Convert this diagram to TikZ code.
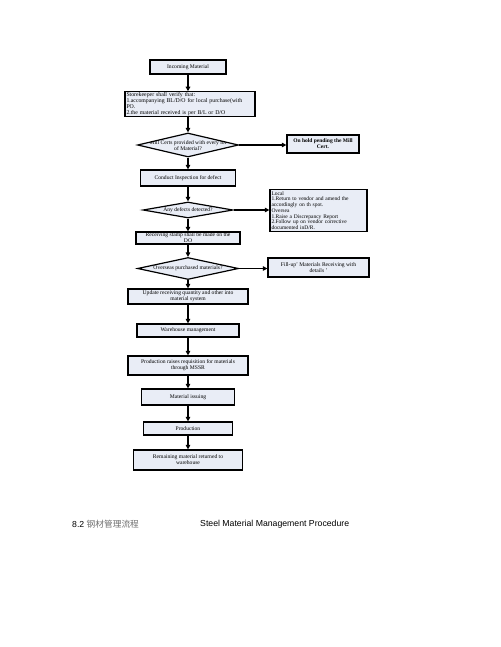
\documentclass[tikz,border=0pt]{standalone}
\usepackage{fontspec}
\setmainfont{Liberation Serif}
\newfontfamily\capfont{Liberation Sans}
\newfontfamily\cjk{Noto Sans CJK SC}
\usetikzlibrary{shapes.geometric,arrows.meta}
\definecolor{boxfill}{RGB}{233,237,246}
\definecolor{cjkgray}{RGB}{110,110,110}
\begin{document}
\begin{tikzpicture}[x=1pt,y=-1pt,
  box/.style={draw=black, line width=1.2pt, fill=boxfill, inner sep=0.5pt,
    font=\fontsize{5.6}{6}\selectfont, align=center},
  sz/.style 2 args={minimum width=#1pt, minimum height=#2pt},
  dia/.style={draw=black, line width=1.2pt, fill=boxfill, diamond, inner sep=0pt},
  dtxt/.style={font=\fontsize{5.6}{6}\selectfont, align=center, inner sep=0pt},
  arr/.style={line width=1.2pt, -{Triangle[length=4.5pt,width=4.5pt]}},
  captxt/.style={font=\capfont\fontsize{8.7}{10}\selectfont, anchor=west, inner sep=0pt}]
\useasboundingbox (0,0) rectangle (500,647);
\fill[white] (0,0) rectangle (500,647);

\node[box, sz={76}{14}] (n1) at (188,67) {Incoming Material};
\node[box, sz={130}{24}, text width=127pt, align=left, font=\fontsize{5.8}{6}\selectfont] (n2) at (190,104)
  {Storekeeper shall verify that:\\1.accompanying BL/D/O for local  purchase(with\\PO.\\2.the material received is per B/L or D/O};
\node[dia, minimum width=101pt, minimum height=24pt,
  path picture={\node[dtxt] at ([yshift=-1pt]path picture bounding box.center)
    {Mill Certs provided with every lot\\of  Material?};}] (d1) at (188,145) {};
\node[box, sz={72}{18}, font=\bfseries\fontsize{5.5}{6}\selectfont] (hold) at (323,144) {On hold pending the Mill\\Cert.};
\node[box, sz={95}{16}] (n3) at (188,178) {Conduct  Inspection for  defect};
\node[dia, minimum width=90pt, minimum height=16pt] (d2) at (188,210) {};
\node[dtxt] (d2t) at (d2) {Any defects detected?};
\node[box, sz={97}{42}, text width=94pt, align=left, font=\fontsize{5.5}{5.7}\selectfont] (local) at (318.5,210.5)
  {Local\\1.Return to vendor and amend the\\accordingly on th spot.\\Oversea\\1.Raise a Discrepancy Report\\2.Follow up on vendor corrective\\documented inD/R.};
\node[box, sz={104}{12}, inner sep=0pt] (n4) at (188,238) {Receiving stamp shall be made on the\\DO};
\node[dia, minimum width=101pt, minimum height=22pt] (d3) at (188,268.5) {};
\node[dtxt] (d3t) at (d3) {Overseas purchased materials?};
\node[box, sz={101}{19}] (fill) at (318.5,267.5) {Fill-up' Materials  Receiving with\\details '};
\node[box, sz={120}{15}] (n5) at (188,296.5) {Update receiving quantity and other into\\material  system};
\node[box, sz={102}{13}] (n6) at (188,330.5) {Warehouse management};
\node[box, sz={120}{19}] (n7) at (188,365.5) {Production raises requisition for materials\\through MSSR};
\node[box, sz={93}{16}] (n8) at (188,397) {Material issuing};
\node[box, sz={89}{13}] (n9) at (188,428.5) {Production};
\node[box, sz={109}{20}] (n10) at (188,460) {Remaining material returned  to\\warehouse};

\draw[arr] (n1.south) -- (n1.south |- n2.north);
\draw[arr] (n1.south |- n2.south) -- (d1.north);
\draw[arr] (d1.east) -- (d1.east -| hold.west);
\draw[arr] (d1.south) -- (n3.north);
\draw[arr] (n3.south) -- (d2.north);
\draw[arr] (d2.east) -- (d2.east -| local.west);
\draw[arr] (d2.south) -- (n4.north);
\draw[arr] (n4.south) -- (d3.north);
\draw[arr] (d3.east) -- (d3.east -| fill.west);
\draw[arr] (d3.south) -- (n5.north);
\draw[arr] (n5.south) -- (n6.north);
\draw[arr] (n6.south) -- (n7.north);
\draw[arr] (n7.south) -- (n8.north);
\draw[arr] (n8.south) -- (n9.north);
\draw[arr] (n9.south) -- (n10.north);

\node[captxt] (c1) at (72,524) {8.2 {\cjk\color{cjkgray}钢材管理流程}};
\node[captxt] (c2) at (200,524) {Steel Material Management Procedure};
\end{tikzpicture}
\end{document}
